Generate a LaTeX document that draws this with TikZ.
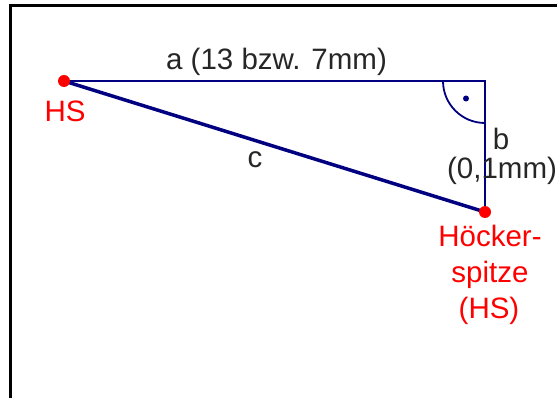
\documentclass[tikz,border=0pt]{standalone}
\usepackage{fontspec}
\setmainfont{Liberation Sans}
\begin{document}
\begin{tikzpicture}[x=1pt,y=-1pt,
  seg/.style={draw=navy,line width=2pt},
  hyp/.style={draw=navy,line width=3.5pt},
  pt/.style={circle,fill=red,inner sep=0pt,minimum size=12pt},
  lbl/.style={font=\fontsize{29.5}{35.5}\selectfont,inner sep=0pt,text=black!85},
  redlbl/.style={lbl,text=red},
  frame/.style={draw=black,line width=3pt}]
\definecolor{navy}{RGB}{0,0,128}
\useasboundingbox (0,0) rectangle (557,398);
\coordinate (tl) at (10,6);
\coordinate (tr) at (557,6);
\coordinate (bl) at (10,398);
\draw[frame] (tr) -- (tl) -- (bl);
\coordinate (hs) at (64,81);
\coordinate (corner) at (485,81);
\coordinate (hsp) at (485,212);
\draw[seg] (hs) -- (corner) -- (hsp);
\draw[hyp] (hs) -- (hsp);
\draw[draw=navy,line width=1.8pt] ([xshift=-42pt]corner) arc[start angle=180,end angle=270,radius=42pt];
\node[circle,fill=navy,inner sep=0pt,minimum size=6pt] (rdot) at (466,98.5) {};
\node[pt] (hsdot) at (hs) {};
\node[pt] (hspdot) at (hsp) {};
\node[lbl,anchor=base] (la) at (276.5,70) {a (13 bzw. 7mm)};
\node[lbl,anchor=base] (lc) at (255,168) {c};
\node[lbl,anchor=base] (lb) at (501,150) {b};
\node[lbl,anchor=base] (lb2) at (502,179) {(0,1mm)};
\node[redlbl,anchor=base] (lhs) at (65,121.5) {HS};
\node[redlbl,anchor=base] (lh1) at (490,247) {Höcker-};
\node[redlbl,anchor=base] (lh2) at (490,282.5) {spitze};
\node[redlbl,anchor=base] (lh3) at (489,318) {(HS)};
\end{tikzpicture}
\end{document}
